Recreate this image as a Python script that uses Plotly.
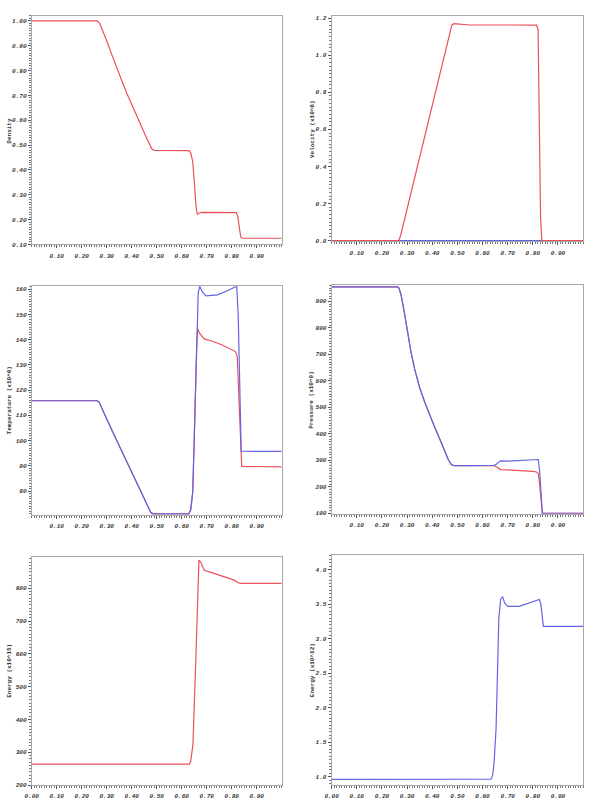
import plotly.graph_objects as go

# ---------------- data ----------------
dens_x = [0.0, 0.262, 0.272, 0.285, 0.30, 0.32, 0.34, 0.36, 0.38, 0.40, 0.42, 0.44, 0.46, 0.472, 0.48, 0.49, 0.55, 0.628, 0.636, 0.644, 0.652, 0.658, 0.663, 0.668, 0.68, 0.75, 0.818, 0.824, 0.830, 0.836, 0.842, 1.0]
dens_y = [1.0, 1.0, 0.99, 0.96, 0.92, 0.865, 0.81, 0.76, 0.71, 0.663, 0.617, 0.572, 0.528, 0.502, 0.485, 0.479, 0.479, 0.478, 0.470, 0.435, 0.330, 0.245, 0.222, 0.226, 0.229, 0.229, 0.228, 0.215, 0.165, 0.130, 0.125, 0.125]

vel_x = [0.0, 0.267, 0.275, 0.30, 0.35, 0.40, 0.45, 0.468, 0.478, 0.486, 0.55, 0.70, 0.80, 0.815, 0.821, 0.826, 0.831, 0.836, 1.0]
vel_y = [0.0, 0.0, 0.03, 0.17, 0.45, 0.73, 1.01, 1.12, 1.162, 1.170, 1.163, 1.163, 1.165, 1.162, 1.14, 0.72, 0.12, 0.0, 0.0]
vel2_x = [0.0, 1.0]
vel2_y = [0.0, 0.0]

temp_x = [0.0, 0.262, 0.27, 0.28, 0.30, 0.35, 0.40, 0.45, 0.468, 0.476, 0.484, 0.55, 0.628, 0.636, 0.644, 0.650, 0.656, 0.660]
temp_y = [115.8, 115.8, 115.2, 112.8, 108.6, 98.0, 87.5, 76.9, 73.2, 71.6, 71.0, 70.9, 71.0, 72.5, 79.5, 100.0, 125.0, 138.0]
tempr_x = [0.660, 0.664, 0.672, 0.690, 0.72, 0.76, 0.80, 0.815, 0.822, 0.828, 0.834, 0.840, 1.0]
tempr_y = [138.0, 144.5, 142.5, 140.3, 139.5, 138.0, 136.2, 135.3, 133.5, 120.0, 100.0, 89.8, 89.6]
tempb_x = [0.660, 0.666, 0.672, 0.682, 0.697, 0.72, 0.743, 0.78, 0.810, 0.820, 0.826, 0.832, 0.838, 1.0]
tempb_y = [148.0, 158.5, 161.2, 159.0, 157.4, 157.6, 157.8, 159.3, 160.8, 161.2, 150.0, 120.0, 95.8, 95.7]

pres_x = [0.0, 0.262, 0.268, 0.276, 0.288, 0.30, 0.315, 0.33, 0.35, 0.37, 0.39, 0.41, 0.43, 0.45, 0.465, 0.476, 0.486, 0.55, 0.635, 0.645, 0.655, 0.665]
pres_y = [955, 955, 950, 925, 865, 790, 712, 645, 575, 520, 470, 425, 380, 335, 300, 284, 280, 280, 280, 281, 285, 292]
presb_x = [0.665, 0.672, 0.70, 0.75, 0.80, 0.815, 0.822, 0.828, 0.834, 0.838, 1.0]
presb_y = [292, 298, 297, 300, 303, 305, 303, 250, 150, 100, 100]
presr_x = [0.645, 0.655, 0.665, 0.672, 0.70, 0.75, 0.80, 0.815, 0.822, 0.828, 0.834, 0.838, 1.0]
presr_y = [280, 276, 268, 265, 264, 262, 258, 256, 250, 200, 130, 100, 100]

ener_x = [0.0, 0.40, 0.45, 0.55, 0.60, 0.630, 0.636, 0.645, 0.655, 0.663, 0.669, 0.676, 0.690, 0.72, 0.758, 0.790, 0.810, 0.826, 0.835, 1.0]
ener_y = [264, 264, 262, 262, 262, 264, 272, 325, 549, 773, 886, 880, 855, 848, 839, 832, 825, 817, 815, 815]

ener2_x = [0.0, 0.60, 0.634, 0.640, 0.646, 0.654, 0.660, 0.665, 0.672, 0.680, 0.688, 0.700, 0.746, 0.785, 0.815, 0.826, 0.832, 0.838, 0.842, 1.0]
ener2_y = [0.963, 0.963, 0.965, 1.02, 1.20, 1.70, 2.60, 3.30, 3.57, 3.61, 3.52, 3.47, 3.47, 3.52, 3.55, 3.57, 3.50, 3.25, 3.18, 3.18]

RED = "#ec5058"
BLUE = "#6464e6"

W, H = 591, 806

def dx(a, b):
    return [a / W, b / W]

def dy(top, bottom):
    return [1 - bottom / H, 1 - top / H]

panels = [
    (dx(25, 278), dy(15, 245), [0.10, 1.02], 0.1, 0.01, ".2f", "Density", 2.5, False),
    (dx(328.5, 583), dy(15, 242), [-0.005, 1.212], 0.2, 0.02, ".1f", "Velocity (x10^6)", 309, False),
    (dx(25, 278), dy(287, 517), [70.6, 161.2], 10, 1, "d", "Temperature (x10^6)", 3, False),
    (dx(328.5, 583), dy(286, 516), [98, 961], 100, 10, "d", "Pressure (x10^9)", 308, False),
    (dx(25, 278), dy(559, 789), [200, 897], 100, 10, "d", "Energy (x10^15)", 3, True),
    (dx(328.5, 583), dy(557, 789), [0.88, 4.22], 0.5, 0.05, ".1f", "Energy (x10^12)", 309, True),
]

series = [
    [(dens_x, dens_y, RED)],
    [(vel2_x, vel2_y, BLUE), (vel_x, vel_y, RED)],
    [(temp_x + tempr_x[1:], temp_y + tempr_y[1:], RED), (temp_x + tempb_x[1:], temp_y + tempb_y[1:], BLUE)],
    [(pres_x[:19] + presr_x, pres_y[:19] + presr_y, RED), (pres_x + presb_x[1:], pres_y + presb_y[1:], BLUE)],
    [(ener_x, ener_y, RED)],
    [(ener2_x, ener2_y, BLUE)],
]

tick_font = dict(family="Liberation Mono", size=6, color="#333333", weight="bold", style="italic")

fig = go.Figure()
annotations = []
layout = {}
for i, (pdx, pdy, yr, ydt, ymin, yfmt, title, tx, show0) in enumerate(panels):
    n = "" if i == 0 else str(i + 1)
    for (xs, ys, col) in series[i]:
        fig.add_trace(go.Scatter(x=xs, y=ys, mode="lines", line=dict(color=col, width=1.2),
                                 xaxis="x" + n, yaxis="y" + n, showlegend=False, hoverinfo="skip"))
    xt = [k / 10 for k in range(0 if show0 else 1, 10)]
    layout["xaxis" + n] = dict(
        domain=pdx, anchor="y" + n, range=[0, 1], tickvals=xt,
        ticktext=[f"{v:.2f}" for v in xt],
        ticks="outside", ticklen=3, tickcolor="#555", tickwidth=1,
        minor=dict(dtick=0.01, ticks="outside", ticklen=2, tickcolor="#777", tickwidth=1, tick0=0),
        showline=True, mirror=True, linecolor="#a8a8a8", linewidth=1,
        showgrid=False, zeroline=False, tickfont=tick_font, ticklabelstandoff=2,
    )
    layout["yaxis" + n] = dict(
        domain=pdy, anchor="x" + n, range=yr, dtick=ydt, tick0=0, tickformat=yfmt,
        ticks="outside", ticklen=3, tickcolor="#555", tickwidth=1,
        minor=dict(dtick=ymin, ticks="outside", ticklen=2, tickcolor="#777", tickwidth=1),
        showline=True, mirror=True, linecolor="#a8a8a8", linewidth=1,
        showgrid=False, zeroline=False, tickfont=tick_font, ticklabelstandoff=0,
    )
    annotations.append(dict(
        text=title, textangle=-90, xref="paper", yref="paper",
        x=tx / W, y=(pdy[0] + pdy[1]) / 2, xanchor="center", yanchor="middle",
        showarrow=False, borderpad=0,
        font=dict(family="Liberation Mono", size=6, color="#333333", weight="bold"),
    ))

fig.update_layout(**layout)
fig.update_layout(
    width=W, height=H, margin=dict(l=0, r=0, t=0, b=0),
    paper_bgcolor="white", plot_bgcolor="white",
    annotations=annotations, showlegend=False,
)

fig.write_html("out.html")
